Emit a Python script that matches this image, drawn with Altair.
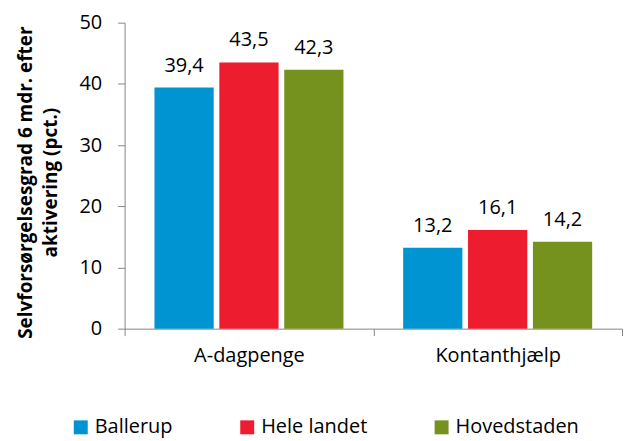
import altair as alt
import pandas as pd

categories = ["A-dagpenge", "Kontanthjælp"]
series = ["Ballerup", "Hele landet", "Hovedstaden"]
ballerup = [39.4, 13.2]
hele_landet = [43.5, 16.1]
hovedstaden = [42.3, 14.2]
colors = ["#0094D3", "#ED1C2E", "#76921E"]
y_ticks = [0, 10, 20, 30, 40, 50]

rows = []
for s, vals in zip(series, [ballerup, hele_landet, hovedstaden]):
    for c, v in zip(categories, vals):
        rows.append({"cat": c, "area": s, "val": v})
df = pd.DataFrame(rows)

FONT = "Open Sans"
AXIS_GRAY = "#868686"

x = alt.X(
    "cat:N", sort=categories,
    scale=alt.Scale(paddingInner=0, paddingOuter=0),
    axis=alt.Axis(title=None, labelAngle=0, tickBand="extent", tickSize=7,
                  labelPadding=10, labelFont=FONT, labelFontSize=20,
                  labelColor="black", domainColor=AXIS_GRAY, tickColor=AXIS_GRAY,
                  grid=False),
)
xoff = alt.XOffset("area:N", sort=series,
                   scale=alt.Scale(paddingInner=0.087, paddingOuter=0.46))
y = alt.Y(
    "val:Q",
    scale=alt.Scale(domain=[0, 50]),
    axis=alt.Axis(title=["Selvforsørgelsesgrad 6 mdr. efter", "aktivering (pct.)"],
                  values=y_ticks, tickSize=7, labelPadding=16, labelFont=FONT,
                  labelFontSize=20, labelColor="black", titleFont=FONT,
                  titleFontSize=19, titleFontWeight="bold", titleColor="black",
                  titleLineHeight=26, titlePadding=18, titleY=160,
                  domainColor=AXIS_GRAY, tickColor=AXIS_GRAY, grid=False),
)
color = alt.Color(
    "area:N", sort=series,
    scale=alt.Scale(domain=series, range=colors),
    legend=alt.Legend(title=None, orient="none", direction="horizontal",
                      legendX=-54, legendY=396, symbolType="square",
                      symbolSize=196, symbolStrokeWidth=0, labelFont=FONT,
                      labelFontSize=20, labelColor="black", columnPadding=64,
                      labelOffset=4, padding=0),
)

base = alt.Chart(df).encode(x=x, xOffset=xoff, y=y)
bars = base.mark_bar().encode(color=color)
labels = base.mark_text(baseline="alphabetic", dy=-16, font=FONT, fontSize=20,
                        color="black").transform_calculate(
    lbl="replace(format(datum.val, '.1f'), '.', ',')"
).encode(text="lbl:N")

chart = (bars + labels).properties(
    width=499, height=307,
    padding={"left": 8, "top": 4, "right": 0, "bottom": 0},
).configure_view(stroke=None)

chart.save("out.html", embed_options={"renderer": "svg", "actions": False})
